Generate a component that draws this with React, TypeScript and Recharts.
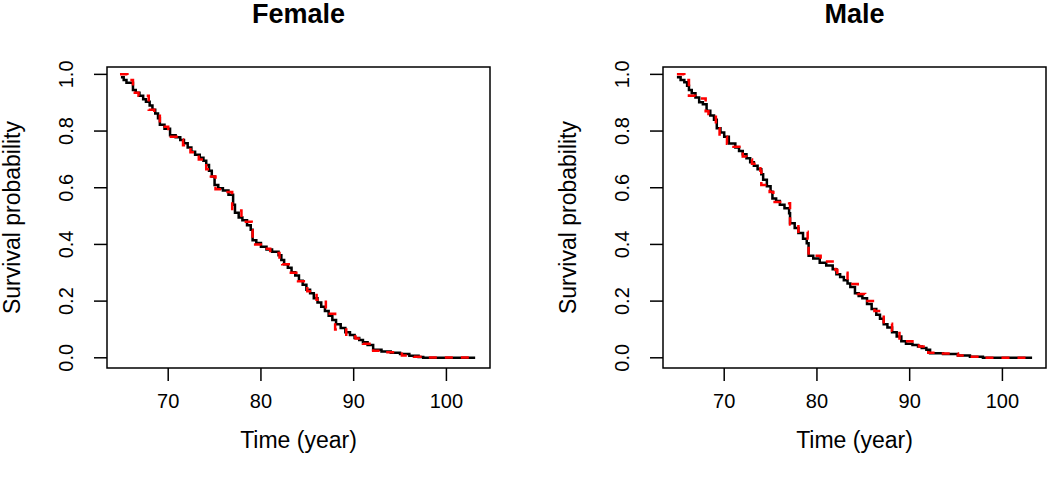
import { LineChart, Line, XAxis, YAxis, ReferenceArea } from 'recharts';

// Kaplan-Meier estimate (solid black) and model fit (dashed red)
const femaleKmTime = [64.9, 65.2, 65.5, 66.2, 66.5, 66.9, 67.3, 67.6, 68.0, 68.3, 68.6, 68.9, 69.1, 69.6, 70.2, 70.8, 71.3, 71.7, 72.1, 72.5, 72.9, 73.4, 73.8, 74.1, 74.4, 74.7, 75.0, 75.4, 75.9, 76.5, 77.0, 77.2, 77.6, 78.0, 78.5, 78.9, 79.1, 79.5, 80.0, 80.6, 81.2, 81.9, 82.2, 82.5, 82.9, 83.3, 83.7, 84.1, 84.5, 84.9, 85.3, 85.7, 86.1, 86.5, 86.9, 87.3, 87.7, 88.1, 88.6, 89.1, 89.6, 90.1, 90.6, 91.0, 91.5, 92.1, 93.0, 94.0, 95.0, 96.0, 97.0, 97.5, 103.1];
const femaleKmSurv = [0.99, 0.98, 0.97, 0.945, 0.935, 0.925, 0.912, 0.903, 0.89, 0.875, 0.862, 0.845, 0.822, 0.808, 0.785, 0.778, 0.768, 0.757, 0.742, 0.727, 0.716, 0.706, 0.695, 0.68, 0.66, 0.64, 0.61, 0.598, 0.59, 0.575, 0.54, 0.512, 0.495, 0.485, 0.468, 0.452, 0.415, 0.405, 0.392, 0.382, 0.374, 0.362, 0.345, 0.33, 0.318, 0.302, 0.29, 0.272, 0.258, 0.24, 0.228, 0.21, 0.195, 0.18, 0.165, 0.148, 0.133, 0.118, 0.105, 0.09, 0.08, 0.07, 0.063, 0.055, 0.045, 0.028, 0.022, 0.018, 0.013, 0.007, 0.003, 0.0, 0.0];

const femaleFitTime = [64.8, 65.6, 66.2, 66.8, 67.9, 68.5, 69.1, 70.0, 70.9, 71.6, 72.4, 73.3, 74.1, 74.6, 75.1, 76.0, 76.9, 77.9, 79.0, 79.1, 80.0, 81.0, 82.0, 82.3, 83.0, 84.0, 85.0, 86.0, 87.0, 88.0, 89.2, 90.2, 91.0, 92.1, 93.0, 95.2, 96.5, 97.5, 103.1];
const femaleFitSurv = [1.0, 0.98, 0.935, 0.925, 0.875, 0.865, 0.815, 0.78, 0.77, 0.75, 0.725, 0.7, 0.665, 0.64, 0.595, 0.585, 0.52, 0.48, 0.45, 0.4, 0.385, 0.37, 0.34, 0.33, 0.3, 0.27, 0.235, 0.205, 0.155, 0.1, 0.075, 0.068, 0.05, 0.025, 0.02, 0.008, 0.004, 0.001, 0.0];

const maleKmTime = [64.9, 65.3, 65.7, 66.0, 66.2, 66.5, 66.9, 67.3, 67.7, 68.1, 68.5, 68.9, 69.2, 69.6, 70.0, 70.5, 71.2, 71.6, 72.0, 72.4, 72.8, 73.2, 73.6, 74.0, 74.2, 74.6, 75.0, 75.2, 75.6, 76.0, 76.5, 77.0, 77.1, 77.6, 78.0, 78.5, 78.9, 79.1, 79.6, 80.3, 81.0, 81.7, 82.1, 82.5, 82.9, 83.3, 83.6, 84.1, 84.5, 84.9, 85.4, 85.9, 86.4, 86.8, 87.2, 87.6, 88.1, 88.6, 89.1, 89.6, 90.3, 90.9, 91.3, 91.8, 92.2, 93.6, 95.2, 96.5, 97.9, 103.2];
const maleKmSurv = [0.99, 0.98, 0.972, 0.96, 0.945, 0.933, 0.918, 0.902, 0.895, 0.872, 0.855, 0.84, 0.81, 0.795, 0.78, 0.756, 0.742, 0.73, 0.718, 0.704, 0.69, 0.678, 0.665, 0.648, 0.628, 0.605, 0.586, 0.562, 0.553, 0.54, 0.528, 0.51, 0.475, 0.458, 0.44, 0.42, 0.404, 0.36, 0.35, 0.335, 0.326, 0.312, 0.295, 0.285, 0.274, 0.262, 0.25, 0.228, 0.218, 0.21, 0.19, 0.172, 0.152, 0.138, 0.118, 0.107, 0.09, 0.075, 0.058, 0.05, 0.045, 0.04, 0.035, 0.028, 0.016, 0.013, 0.008, 0.004, 0.0, 0.0];

const maleFitTime = [64.9, 65.7, 66.2, 66.9, 68.0, 68.3, 69.1, 69.5, 70.3, 71.0, 72.0, 72.4, 73.0, 73.9, 74.0, 74.9, 75.3, 77.0, 77.1, 78.0, 79.0, 79.1, 80.4, 82.0, 82.2, 83.3, 84.4, 85.2, 86.2, 87.2, 88.1, 88.9, 90.3, 91.0, 92.0, 93.3, 95.2, 96.5, 97.9, 103.2];
const maleFitSurv = [1.0, 0.98, 0.925, 0.915, 0.87, 0.86, 0.81, 0.78, 0.755, 0.745, 0.71, 0.7, 0.685, 0.66, 0.61, 0.585, 0.55, 0.545, 0.47, 0.445, 0.42, 0.36, 0.34, 0.31, 0.3, 0.26, 0.225, 0.2, 0.165, 0.12, 0.095, 0.058, 0.048, 0.04, 0.018, 0.015, 0.008, 0.004, 0.0, 0.0];

const xTicks = [70, 80, 90, 100];
const yTicks = [0, 0.2, 0.4, 0.6, 0.8, 1.0];
const X_DOMAIN = [63.4, 104.7];
const Y_DOMAIN = [-0.036, 1.026];

const FONT = '"Liberation Sans", Arial, Helvetica, sans-serif';

const toPoints = (times: number[], surv: number[]) => times.map((t, i) => ({ t, s: surv[i] }));

const YTick = ({ x, y, payload }: any) => (
  <text x={x} y={y} transform={`rotate(-90 ${x} ${y})`} textAnchor="middle" fontSize={20} fill="#000" fontFamily={FONT}>
    {Number(payload.value).toFixed(1)}
  </text>
);

const YLabel = ({ viewBox }: any) => {
  const x = viewBox.x - 27;
  const y = viewBox.y + viewBox.height / 2;
  return (
    <text x={x} y={y} transform={`rotate(-90 ${x} ${y})`} textAnchor="middle" fontSize={23} fill="#000" fontFamily={FONT}>
      Survival probability
    </text>
  );
};

const XLabel = ({ viewBox }: any) => (
  <text x={viewBox.x + viewBox.width / 2} y={viewBox.y + 80} textAnchor="middle" fontSize={23} fill="#000" fontFamily={FONT}>
    Time (year)
  </text>
);

interface PanelProps {
  title: string;
  km: { t: number; s: number }[];
  fit: { t: number; s: number }[];
  left: number;
}

const Panel = ({ title, km, fit, left }: PanelProps) => (
  <div style={{ position: 'absolute', left, top: 0, width: 525, height: 480 }}>
    <div
      style={{
        position: 'absolute',
        left: 107,
        width: 383,
        top: 1,
        textAlign: 'center',
        fontFamily: FONT,
        fontWeight: 'bold',
        fontSize: 27,
        lineHeight: '27px',
      }}
    >
      {title}
    </div>
    <LineChart width={525} height={480} margin={{ top: 67, right: 35, bottom: 52, left: 47 }}>
      <XAxis
        dataKey="t"
        type="number"
        domain={X_DOMAIN}
        ticks={xTicks}
        allowDataOverflow
        height={60}
        axisLine={false}
        tickSize={13}
        tickMargin={13}
        tickLine={{ stroke: '#000', strokeWidth: 1.5 }}
        tick={{ fill: '#000', fontSize: 20, fontFamily: FONT }}
        label={<XLabel />}
      />
      <YAxis
        type="number"
        domain={Y_DOMAIN}
        ticks={yTicks}
        allowDataOverflow
        width={60}
        axisLine={false}
        tickSize={13}
        tickMargin={21}
        tickLine={{ stroke: '#000', strokeWidth: 1.5 }}
        tick={<YTick />}
        label={<YLabel />}
      />
      <ReferenceArea x1={X_DOMAIN[0]} x2={X_DOMAIN[1]} y1={Y_DOMAIN[0]} y2={Y_DOMAIN[1]} fill="none" stroke="#000" strokeWidth={1.5} fillOpacity={0} />
      <Line data={km} dataKey="s" type="stepAfter" stroke="#000" strokeWidth={2.5} dot={false} isAnimationActive={false} />
      <Line data={fit} dataKey="s" type="stepAfter" stroke="#ff0000" strokeWidth={2.5} strokeDasharray="8 8" dot={false} isAnimationActive={false} />
    </LineChart>
  </div>
);

export default function App() {
  return (
    <div style={{ position: 'absolute', left: 0, top: 0, width: 1050, height: 480, background: '#fff' }}>
      <Panel title="Female" km={toPoints(femaleKmTime, femaleKmSurv)} fit={toPoints(femaleFitTime, femaleFitSurv)} left={0} />
      <Panel title="Male" km={toPoints(maleKmTime, maleKmSurv)} fit={toPoints(maleFitTime, maleFitSurv)} left={556} />
    </div>
  );
}
